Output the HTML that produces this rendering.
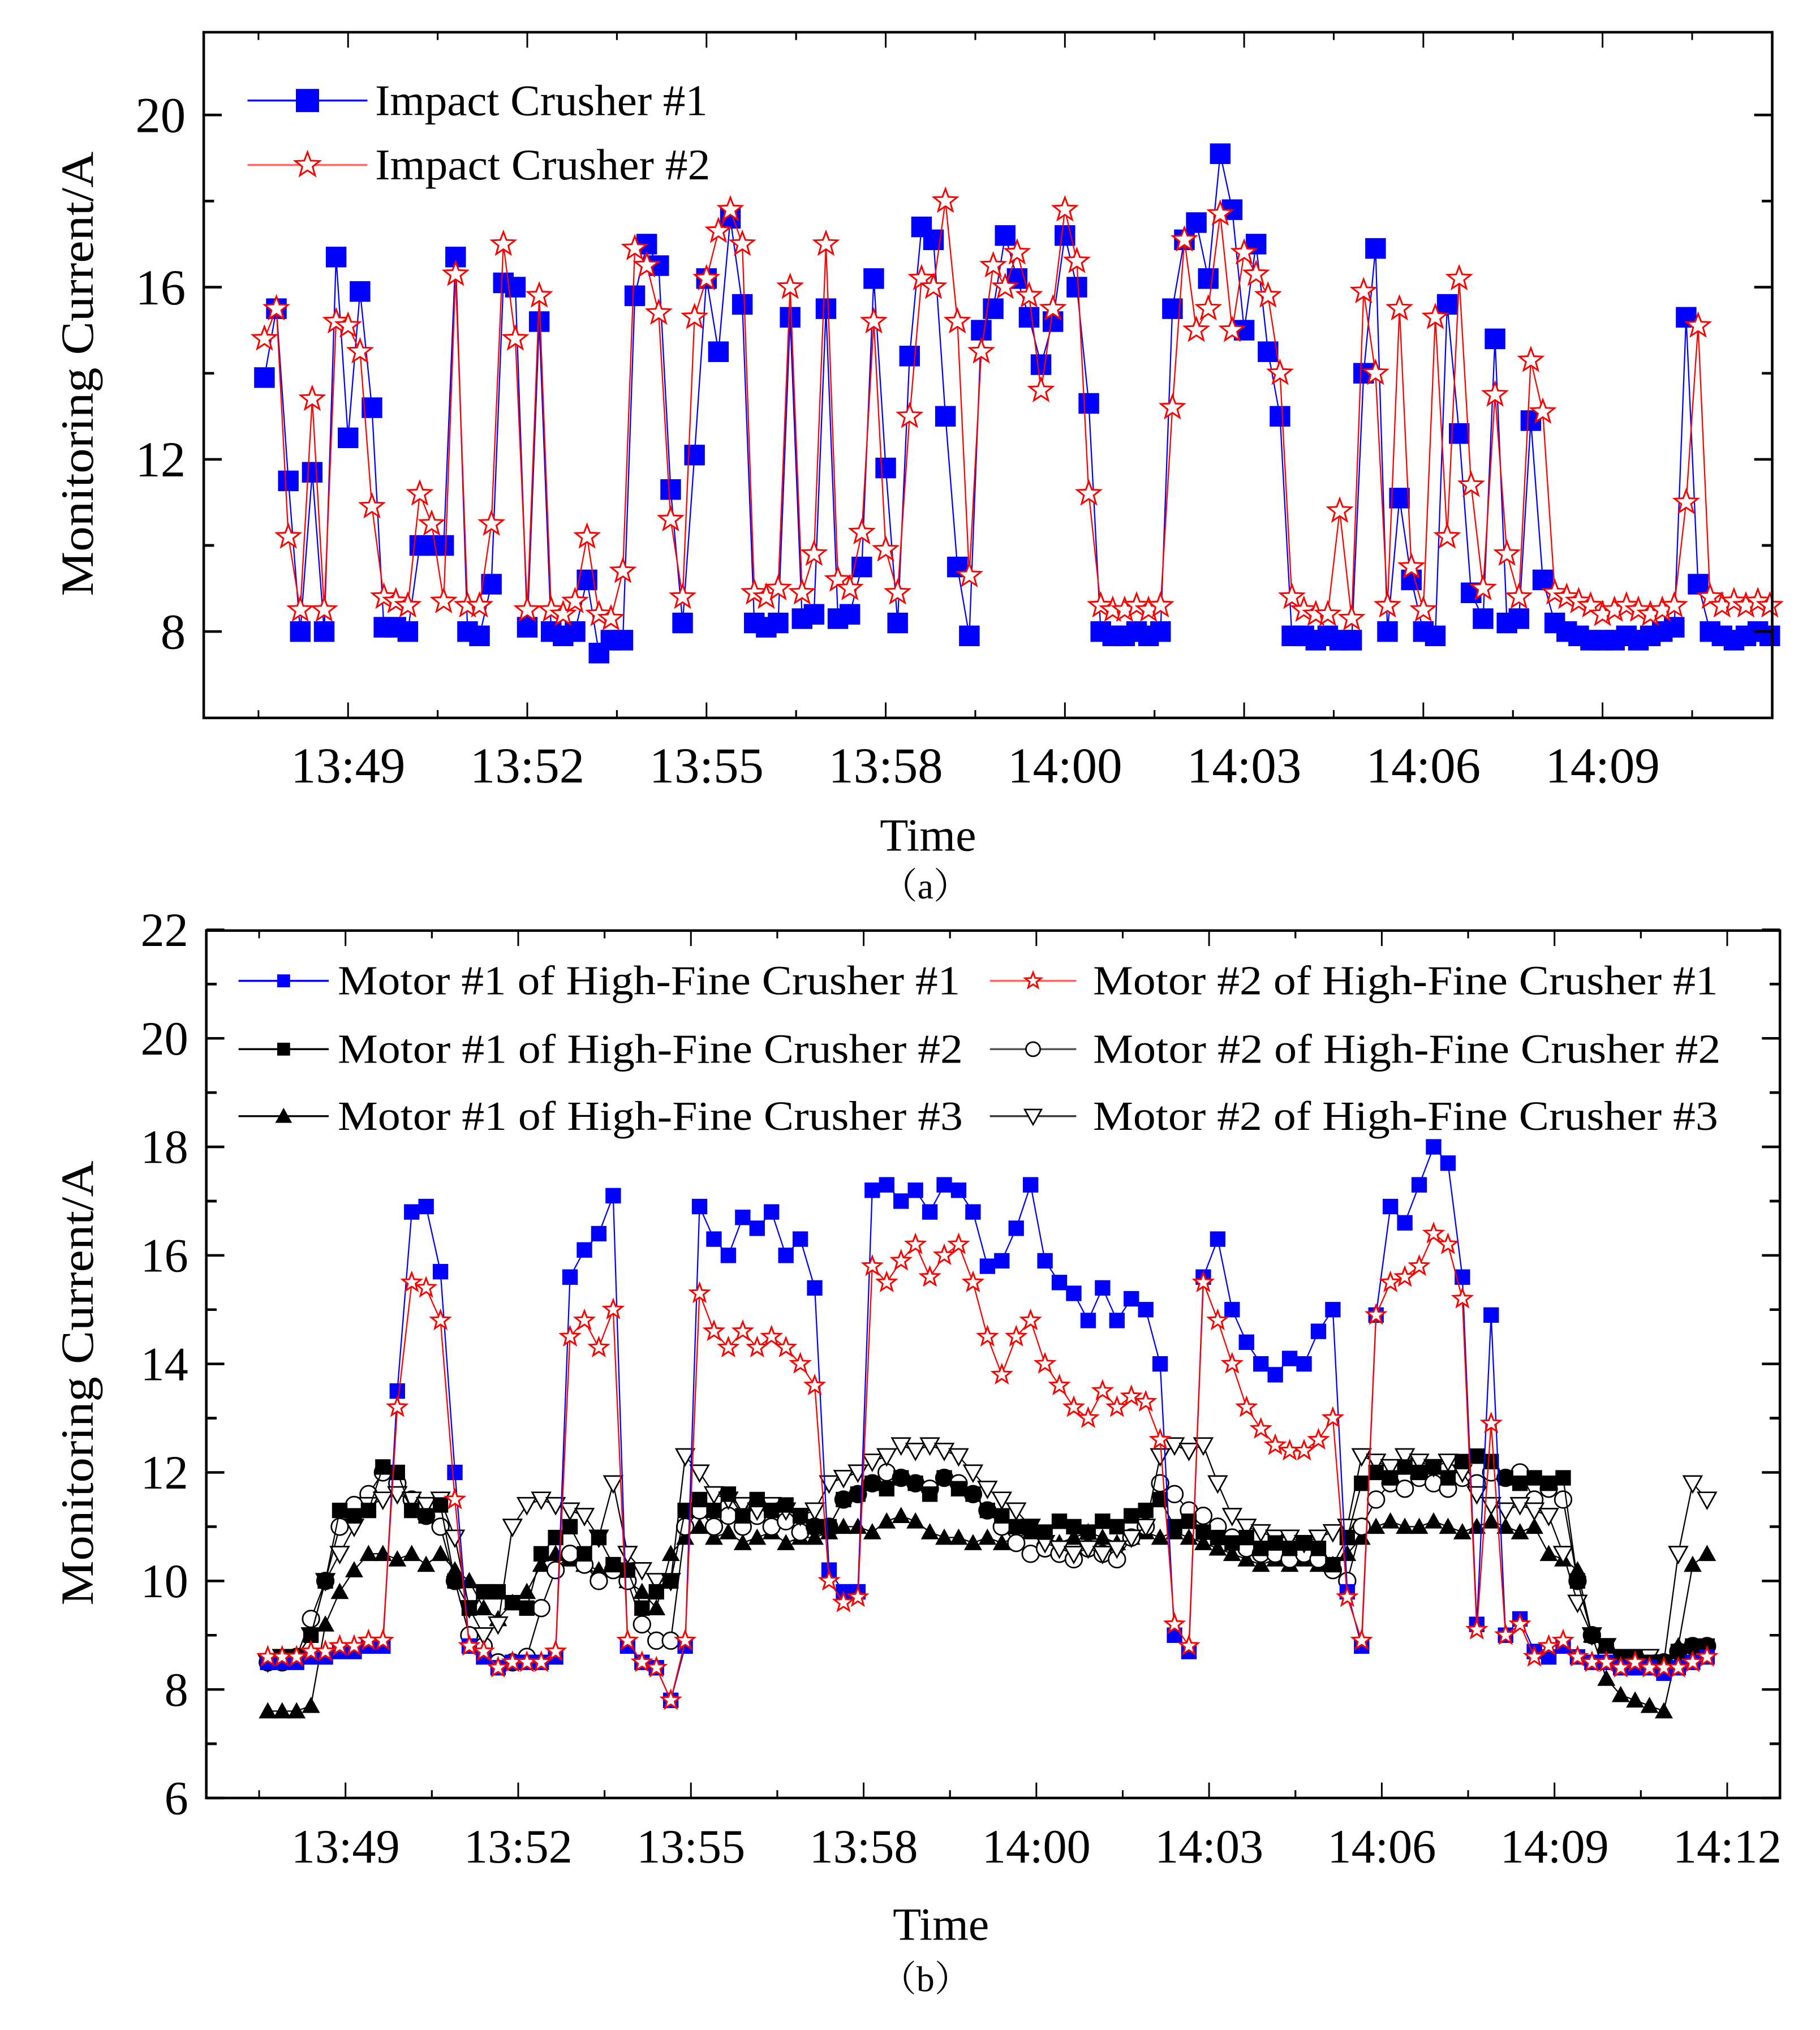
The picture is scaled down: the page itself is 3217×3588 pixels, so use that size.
<!DOCTYPE html>
<html><head><meta charset="utf-8">
<style>
html,body{margin:0;padding:0;background:#fff;}
svg{display:block;}
text{font-family:"Liberation Serif",serif;fill:#000;}
</style></head>
<body>
<svg id="fig" xmlns="http://www.w3.org/2000/svg" width="3217" height="3588" viewBox="0 0 1412 1575">
<rect x="0" y="0" width="1412" height="1575" fill="#fff"/>
<g id="pa"></g>
<g id="pb"></g>
</svg>
<script>
// ---------- Panel (a) data: minutes relative to 13:49, sampled every 0.2 min ----------
const aStart = -1.4;
const aStep = 0.2;
const aTickLabels = ["13:49","13:52","13:55","13:58","14:00","14:03","14:06","14:09"];
const aYTicks = [8,12,16,20];
const impact1 = [13.9,15.5,11.5,8.0,11.7,8.0,16.7,12.5,15.9,13.2,8.1,8.1,8.0,10.0,10.0,10.0,16.7,8.0,7.9,9.1,16.1,16.0,8.1,15.2,8.0,7.9,8.0,9.2,7.5,7.8,7.8,15.8,17.0,16.5,11.3,8.2,12.1,16.2,14.5,17.6,15.6,8.2,8.1,8.2,15.3,8.3,8.4,15.5,8.3,8.4,9.5,16.2,11.8,8.2,14.4,17.4,17.1,13.0,9.5,7.9,15.0,15.5,17.2,16.2,15.3,14.2,15.2,17.2,16.0,13.3,8.0,7.9,7.9,8.0,7.9,8.0,15.5,17.1,17.5,16.2,19.1,17.8,15.0,17.0,14.5,13.0,7.9,7.9,7.8,7.9,7.8,7.8,14.0,16.9,8.0,11.1,9.2,8.0,7.9,15.6,12.6,8.9,8.3,14.8,8.2,8.3,12.9,9.2,8.2,8.0,7.9,7.8,7.8,7.8,7.9,7.8,7.9,8.0,8.1,15.3,9.1,8.0,7.9,7.8,7.9,8.0,7.9];
const impact2 = [14.8,15.5,10.2,8.5,13.4,8.5,15.2,15.1,14.5,10.9,8.8,8.7,8.6,11.2,10.5,8.7,16.3,8.6,8.6,10.5,17.0,14.8,8.5,15.8,8.5,8.4,8.7,10.2,8.4,8.3,9.4,16.9,16.5,15.4,10.6,8.8,15.3,16.2,17.3,17.8,17.0,8.9,8.8,9.0,16.0,8.9,9.8,17.0,9.2,9.0,10.3,15.2,9.9,8.9,13.0,16.2,16.0,18.0,15.2,9.3,14.5,16.5,16.0,16.8,15.8,13.6,15.5,17.8,16.6,11.2,8.6,8.5,8.5,8.6,8.5,8.6,13.2,17.1,15.0,15.5,17.7,15.0,16.8,16.3,15.8,14.0,8.8,8.5,8.4,8.4,10.8,8.3,15.9,14.0,8.6,15.5,9.5,8.5,15.3,10.2,16.2,11.4,9.0,13.5,9.8,8.8,14.3,13.1,8.9,8.8,8.7,8.6,8.4,8.5,8.6,8.5,8.4,8.5,8.6,11.0,15.1,8.8,8.6,8.7,8.6,8.7,8.6];

// ---------- Panel (b) data: minutes relative to 13:49, sampled every 0.25 min ----------
const bStart = -1.35;
const bStep = 0.25;
const bTickLabels = ["13:49","13:52","13:55","13:58","14:00","14:03","14:06","14:09","14:12"];
const bYTicks = [6,8,10,12,14,16,18,20,22];
const m1c1 = [8.5,8.5,8.5,8.6,8.6,8.7,8.7,8.8,8.8,13.5,16.8,16.9,15.7,12.0,8.8,8.6,8.4,8.5,8.5,8.5,8.6,15.6,16.1,16.4,17.1,8.8,8.5,8.4,7.8,8.8,16.9,16.3,16.0,16.7,16.5,16.8,16.0,16.3,15.4,10.2,9.8,9.8,17.2,17.3,17.0,17.2,16.8,17.3,17.2,16.8,15.8,15.9,16.5,17.3,15.9,15.5,15.3,14.8,15.4,14.8,15.2,15.0,14.0,9.0,8.7,15.6,16.3,15.0,14.4,14.0,13.8,14.1,14.0,14.6,15.0,9.8,8.8,14.9,16.9,16.6,17.3,18.0,17.7,15.6,9.2,14.9,9.0,9.3,8.7,8.6,8.8,8.6,8.5,8.5,8.4,8.4,8.4,8.3,8.4,8.5,8.6];
const m2c1 = [8.6,8.6,8.6,8.7,8.7,8.8,8.8,8.9,8.9,13.2,15.5,15.4,14.8,11.5,8.8,8.7,8.4,8.5,8.5,8.5,8.7,14.5,14.8,14.3,15.0,8.9,8.5,8.4,7.8,8.9,15.3,14.6,14.3,14.6,14.3,14.5,14.3,14.0,13.6,10.0,9.6,9.7,15.8,15.5,15.9,16.2,15.6,16.0,16.2,15.5,14.5,13.8,14.5,14.8,14.0,13.6,13.2,13.0,13.5,13.2,13.4,13.3,12.6,9.2,8.8,15.5,14.8,14.0,13.2,12.8,12.5,12.4,12.4,12.6,13.0,9.7,8.9,14.9,15.5,15.6,15.8,16.4,16.2,15.2,9.1,12.9,9.0,9.2,8.6,8.8,8.9,8.6,8.5,8.5,8.4,8.5,8.4,8.4,8.4,8.5,8.6];
const m1c2 = [8.5,8.6,8.6,9.0,10.0,11.3,11.2,11.3,12.1,12.0,11.3,11.2,11.4,10.0,9.5,9.8,9.8,9.6,9.5,10.5,10.8,11.0,10.5,10.8,10.3,10.2,9.5,9.8,10.0,11.3,11.5,11.3,11.6,11.2,11.5,11.3,11.4,11.2,11.0,11.0,11.5,11.6,11.8,11.7,11.9,11.8,11.6,11.9,11.7,11.6,11.3,11.2,11.0,11.0,10.9,11.1,11.0,10.9,11.1,11.0,11.2,11.3,11.5,11.0,11.1,10.9,10.8,10.7,10.8,10.6,10.7,10.6,10.7,10.6,10.3,10.8,11.8,12.0,11.9,12.1,12.0,12.1,11.9,12.2,12.3,12.2,11.9,11.8,11.9,11.8,11.9,10.0,9.0,8.8,8.6,8.6,8.5,8.5,8.7,8.8,8.8];
const m2c2 = [8.5,8.5,8.6,9.3,10.0,11.0,11.4,11.6,12.0,11.8,11.5,11.2,11.0,10.0,9.0,8.8,8.5,8.5,8.6,9.5,10.2,10.5,10.3,10.0,10.2,10.0,9.2,8.9,8.9,11.0,11.3,11.0,11.2,11.0,11.2,11.0,11.1,10.9,11.0,11.0,11.5,11.6,11.8,12.0,11.9,11.8,11.7,11.9,11.8,11.6,11.3,11.0,10.7,10.5,10.6,10.5,10.4,10.6,10.5,10.4,10.8,11.0,11.8,11.6,11.3,11.2,11.0,10.8,10.6,10.5,10.5,10.4,10.5,10.4,10.2,10.0,11.0,11.5,11.8,11.7,11.9,11.8,11.7,11.9,11.8,12.0,11.9,12.0,11.5,11.7,11.5,10.0,9.0,8.7,8.5,8.5,8.5,8.5,8.7,8.8,8.8];
const m1c3 = [7.6,7.6,7.6,7.7,9.2,9.8,10.2,10.5,10.5,10.4,10.5,10.3,10.5,10.2,10.0,9.5,9.3,9.6,9.8,10.3,10.5,10.4,10.3,10.2,10.2,10.0,9.8,9.5,10.5,10.8,11.0,10.8,10.9,10.7,10.8,10.9,10.7,10.8,10.8,10.9,11.0,11.0,10.9,11.1,11.2,11.1,10.9,10.8,10.8,10.7,10.8,10.7,10.8,10.9,10.8,10.7,10.8,10.9,10.8,10.7,10.8,10.9,10.8,10.9,10.8,10.7,10.6,10.5,10.4,10.3,10.4,10.3,10.4,10.3,10.3,10.5,10.8,11.0,11.1,11.0,11.0,11.1,11.0,10.9,11.0,11.1,11.0,10.9,11.0,10.5,10.4,10.2,9.0,8.2,7.9,7.8,7.7,7.6,8.8,10.3,10.5];
const m2c3 = [8.5,8.6,8.6,9.0,10.0,10.5,11.0,11.4,11.5,11.6,11.5,11.4,11.5,10.8,9.5,9.0,9.2,11.0,11.4,11.5,11.4,11.3,11.2,10.8,11.8,10.5,10.2,10.0,10.0,12.3,12.0,11.6,11.5,11.4,11.3,11.4,11.3,11.2,11.3,11.8,11.9,12.0,12.2,12.3,12.5,12.4,12.5,12.4,12.3,12.0,11.7,11.5,11.3,11.0,10.7,10.6,10.5,10.6,10.5,10.6,10.8,11.0,12.3,12.5,12.4,12.5,11.8,11.2,11.0,10.9,10.8,10.8,10.7,10.8,10.9,11.0,12.3,12.2,12.1,12.3,12.2,12.1,12.2,12.0,11.6,11.4,11.3,11.4,11.3,11.2,10.5,9.6,9.0,8.8,8.6,8.6,8.6,8.5,10.5,11.8,11.5];

const NS = "http://www.w3.org/2000/svg";
function mk(parent, tag, attrs){
  const el = document.createElementNS(NS, tag);
  for (const k in attrs) el.setAttribute(k, attrs[k]);
  parent.appendChild(el);
  return el;
}
function starPath(cx, cy, R){
  const r = R*0.42; let d = "";
  for (let k=0;k<10;k++){
    const ang = -Math.PI/2 + k*Math.PI/5;
    const rr = k%2===0 ? R : r;
    d += (k===0?"M":"L") + (cx+rr*Math.cos(ang)).toFixed(2) + "," + (cy+rr*Math.sin(ang)).toFixed(2);
  }
  return d + "Z";
}
function marker(g, type, x, y, s, color){
  let el;
  if (type==="square") el = mk(g,"rect",{x:x-s/2,y:y-s/2,width:s,height:s,fill:color});
  else if (type==="star") el = mk(g,"path",{d:starPath(x,y,s/2),fill:"#fff",stroke:color,"stroke-width":1.3});
  else if (type==="circle") el = mk(g,"circle",{cx:x,cy:y,r:s/2,fill:"#fff",stroke:color,"stroke-width":1.2});
  else if (type==="tri") el = mk(g,"path",{d:`M${x},${y-s/2}L${x+s/2},${y+s/2*0.8}L${x-s/2},${y+s/2*0.8}Z`,fill:color});
  else el = mk(g,"path",{d:`M${x},${y+s/2}L${x+s/2},${y-s/2*0.8}L${x-s/2},${y-s/2*0.8}Z`,fill:"#fff",stroke:color,"stroke-width":1.2});
  return el;
}

function drawPanel(cfg){
  const g = document.getElementById(cfg.id);
  const X = t => cfg.x0 + (t - cfg.t0) * cfg.pxPerMin;
  const Y = v => cfg.yAt0 - (v - cfg.v0) * cfg.pxPerUnit;
  cfg.series.forEach(s => {
    const sg = mk(g,"g",{});
    
    
    const pts = s.vals.map((v,i)=>[X(cfg.start + i*cfg.step), Y(v)]);
    const line = mk(sg,"polyline",{points:pts.map(p=>p[0].toFixed(1)+","+p[1].toFixed(1)).join(" "),fill:"none",stroke:s.line,"stroke-width":1});
    
    
    pts.forEach(p=>{
      const m = marker(sg, s.marker, p[0], p[1], s.size, s.color);
      
      
    });
  });
  const fr = mk(g,"rect",{x:cfg.L,y:cfg.T,width:cfg.R-cfg.L,height:cfg.B-cfg.T,fill:"none",stroke:"#000","stroke-width":2});
  
  
  const xg = mk(g,"g",{});
  
  
  cfg.xLabels.forEach((lab,i)=>{
    const t = i*3;
    const x = X(t);
    [cfg.B,cfg.T].forEach((yy,j)=>{
      const d = j===0?-1:1;
      mk(xg,"line",{x1:x,y1:yy,x2:x,y2:yy+d*12,stroke:"#000","stroke-width":1.3});
      [-1.5,1.5].forEach(o=>{
        const xm = X(t+o);
        if (xm>cfg.L+3 && xm<cfg.R-3) mk(xg,"line",{x1:xm,y1:yy,x2:xm,y2:yy+d*6,stroke:"#000","stroke-width":1.3});
      });
    });
    const tx = mk(xg,"text",{x:x,y:cfg.B+cfg.xLabOff,"font-size":cfg.fs,"text-anchor":"middle"});
    tx.textContent = lab;
    
    
  });
  const yg = mk(g,"g",{});
  
  
  cfg.yTicks.forEach((v,i)=>{
    const y = Y(v);
    mk(yg,"line",{x1:cfg.L,y1:y,x2:cfg.L+14,y2:y,stroke:"#000","stroke-width":2});
    mk(yg,"line",{x1:cfg.R,y1:y,x2:cfg.R-14,y2:y,stroke:"#000","stroke-width":2});
    const half = cfg.yMinorStep;
    [v-half, v+half].forEach(vm=>{
      const ym = Y(vm);
      if (ym>cfg.T+3 && ym<cfg.B-3){
        mk(yg,"line",{x1:cfg.L,y1:ym,x2:cfg.L+8,y2:ym,stroke:"#000","stroke-width":2});
        mk(yg,"line",{x1:cfg.R,y1:ym,x2:cfg.R-8,y2:ym,stroke:"#000","stroke-width":2});
      }
    });
    const tx = mk(yg,"text",{x:cfg.L-14,y:y+cfg.fs*0.34,"font-size":cfg.fs,"text-anchor":"end"});
    tx.textContent = v;
    
    
  });
  return {X,Y};
}

drawPanel({id:"pa",L:158,R:1375,T:25,B:557,x0:270,t0:0,pxPerMin:46.35,yAt0:490,v0:8,pxPerUnit:33.4,
  start:aStart,step:aStep,xLabels:aTickLabels,yTicks:aYTicks,yMinorStep:2,fs:39,xLabOff:50,
  series:[
    {name:"impact-crusher-1",vals:impact1,marker:"square",size:16,color:"#0000ff",line:"#0000ff"},
    {name:"impact-crusher-2",vals:impact2,marker:"star",size:19,color:"#ff0000",line:"#ff0000"}
  ]});
drawPanel({id:"pb",L:160,R:1381,T:722,B:1395,x0:268,t0:0,pxPerMin:44.67,yAt0:1395,v0:6,pxPerUnit:42.1,
  start:bStart,step:bStep,xLabels:bTickLabels,yTicks:bYTicks,yMinorStep:1,fs:37,xLabOff:50,
  series:[
    {name:"motor1-crusher3",vals:m1c3,marker:"tri",size:14,color:"#000",line:"#000"},
    {name:"motor2-crusher2",vals:m2c2,marker:"circle",size:13,color:"#000",line:"#000"},
    {name:"motor2-crusher3",vals:m2c3,marker:"itri",size:14,color:"#000",line:"#000"},
    {name:"motor1-crusher2",vals:m1c2,marker:"square",size:12,color:"#000",line:"#000"},
    {name:"motor1-crusher1",vals:m1c1,marker:"square",size:12,color:"#0000ff",line:"#0000ff"},
    {name:"motor2-crusher1",vals:m2c1,marker:"star",size:15,color:"#ff0000",line:"#ff0000"}
  ]});

const svg = document.getElementById("fig");
function legendEntry(name, x1, x2, y, type, size, color, lineColor, label, tx, tl, fs){
  const g = mk(svg,"g",{});
  
  
  mk(g,"line",{x1:x1,y1:y,x2:x2,y2:y,stroke:lineColor,"stroke-width":1.5});
  marker(g, type, (x1+x2)/2, y, size, color);
  const t = mk(g,"text",{x:tx,y:y+fs*0.33,"font-size":fs,textLength:tl,lengthAdjust:"spacingAndGlyphs"});
  t.textContent = label;
}
legendEntry("legend-impact-crusher-1",192,285,78,"square",18,"#0000ff","#0000ff","Impact Crusher #1",291,258,34);
legendEntry("legend-impact-crusher-2",192,285,128,"star",20,"#ff0000","#ff6666","Impact Crusher #2",291,260,34);
legendEntry("legend-motor1-crusher1",185,255,761,"square",10,"#0000ff","#0000ff","Motor #1 of High-Fine Crusher #1",262,483,32);
legendEntry("legend-motor1-crusher2",185,255,814,"square",10,"#000","#000","Motor #1 of High-Fine Crusher #2",262,485,32);
legendEntry("legend-motor1-crusher3",185,255,866,"tri",13,"#000","#000","Motor #1 of High-Fine Crusher #3",262,485,32);
legendEntry("legend-motor2-crusher1",768,835,761,"star",13,"#ff0000","#ff6666","Motor #2 of High-Fine Crusher #1",848,485,32);
legendEntry("legend-motor2-crusher2",768,835,814,"circle",11,"#000","#555","Motor #2 of High-Fine Crusher #2",848,487,32);
legendEntry("legend-motor2-crusher3",768,835,866,"itri",13,"#000","#333","Motor #2 of High-Fine Crusher #3",848,485,32);

function txt(name, x, y, s, fs, opts){
  const t = mk(svg,"text",Object.assign({x:x,y:y,"font-size":fs,"text-anchor":"middle"},opts||{}));
  t.textContent = s;
  
  
}
txt("y-axis-title-a",72,290,"Monitoring Current/A",36,{transform:"rotate(-90 72 290)",textLength:345,lengthAdjust:"spacingAndGlyphs"});
txt("x-axis-title-a",720,660,"Time",36);
txt("caption-a",718,697,"（a）",28,{style:"font-family:'Liberation Serif','Noto Serif CJK SC',serif"});
txt("y-axis-title-b",72,1073,"Monitoring Current/A",36,{transform:"rotate(-90 72 1073)",textLength:345,lengthAdjust:"spacingAndGlyphs"});
txt("x-axis-title-b",730,1505,"Time",36);
txt("caption-b",718,1545,"（b）",28,{style:"font-family:'Liberation Serif','Noto Serif CJK SC',serif"});
</script>
</body></html>
